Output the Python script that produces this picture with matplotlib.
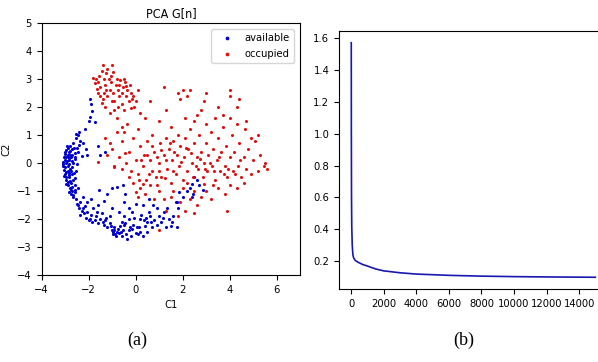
import matplotlib
matplotlib.use("Agg")
import numpy as np
import matplotlib.pyplot as plt
from matplotlib import font_manager

# --- Data: PCA scatter (a) ---
available = [
    (-3.0, 0.4), (-2.9, 0.3), (-3.05, 0.2), (-2.85, 0.1), (-2.95, 0.0), (-3.1, -0.1),
    (-2.8, -0.2), (-2.9, -0.3), (-3.0, -0.4), (-2.85, -0.5), (-2.95, -0.6), (-2.75, -0.7),
    (-2.9, -0.8), (-2.8, -0.9), (-2.7, -1.0), (-2.75, -1.1), (-2.65, -1.2), (-3.0, 0.1),
    (-2.8, 0.3), (-2.7, 0.5), (-2.75, 0.2), (-2.85, -0.05), (-3.05, -0.25), (-2.7, -0.4),
    (-2.6, -0.55), (-3.1, 0.05), (-2.95, 0.45), (-2.8, 0.6), (-2.65, 0.7), (-2.55, 0.9),
    (-2.45, 1.0), (-2.35, 0.8), (-2.5, 0.55), (-2.6, 0.35), (-2.65, 0.0), (-2.55, -0.3),
    (-2.6, -0.8), (-2.9, 0.25), (-3.0, -0.15), (-2.85, -0.35), (-2.95, -0.5), (-2.8, -0.65),
    (-2.7, -0.85), (-2.6, -1.05), (-2.55, -1.3), (-2.5, -1.45), (-2.4, -1.6), (-2.35, -1.4),
    (-2.3, -1.7), (-2.2, -1.8), (-2.15, -1.55), (-2.1, -1.95), (-2.0, -2.05), (-1.9, -1.85),
    (-1.85, -2.1), (-1.8, -1.6), (-1.7, -1.9), (-1.6, -2.15), (-1.5, -2.0), (-1.45, -1.8),
    (-1.35, -2.2), (-1.3, -2.05), (-1.2, -2.3), (-1.1, -2.15), (-1.0, -2.4), (-0.95, -2.55),
    (-0.9, -2.3), (-0.85, -2.6), (-0.8, -2.45), (-0.7, -2.5), (-0.65, -2.25), (-0.6, -2.1),
    (-0.55, -2.4), (-0.5, -1.9), (-0.45, -2.15), (-0.4, -2.55), (-0.35, -2.7), (-0.3, -2.0),
    (-0.25, -2.3), (-0.2, -2.6), (-0.1, -2.2), (-0.05, -1.95), (0.0, -2.5), (0.1, -2.55),
    (0.15, -2.3), (0.2, -2.0), (0.25, -1.85), (0.3, -2.6), (0.4, -2.25), (0.5, -2.1),
    (0.55, -1.75), (0.6, -1.9), (0.7, -2.3), (0.8, -2.05), (0.9, -1.6), (1.0, -1.9),
    (1.1, -2.1), (1.2, -1.75), (1.3, -2.3), (1.4, -2.0), (1.5, -2.25), (1.6, -1.9),
    (1.7, -1.4), (1.75, -2.3), (1.8, -1.6), (2.0, -1.2), (2.2, -1.0), (2.3, -0.9),
    (2.4, -0.75), (2.45, -1.1), (2.6, -0.6), (1.85, -1.05), (-1.0, -0.9), (-0.8, -0.85),
    (-0.55, -0.8), (-0.45, -1.1), (-0.5, -1.4), (-0.3, -1.6), (0.0, -1.45), (0.3, -1.5),
    (0.55, -1.3), (0.75, -1.5), (-1.2, -1.1), (-1.55, -0.95), (-1.35, -1.35), (-1.6, -1.5),
    (-1.9, -1.3), (-2.05, -1.4), (-2.25, -1.2), (-2.45, -0.9), (-1.0, -1.6), (-0.7, -1.75),
    (-1.1, -1.9), (-0.15, -1.75), (0.5, -2.45), (-0.9, -2.4), (-0.6, -2.6), (-2.55, 1.05),
    (-2.4, 1.1), (-2.25, 0.7), (-2.15, 1.2), (-2.0, 1.5), (-1.95, 1.65), (-1.85, 1.85),
    (-1.9, 2.1), (-1.95, 2.3), (-1.75, 1.45), (-1.6, 0.6), (-1.5, 0.3), (-2.1, 0.5),
    (-1.3, 0.4), (-2.6, 0.2), (-2.3, 0.25), (-2.05, 0.3), (1.76, -1.39), (2.38, -1.2),
    (2.86, -0.96), (2.5, -0.5), (2.7, -0.8),
    # dense column, extra
    (-2.92, 0.62), (-2.88, 0.52), (-3.02, 0.33), (-2.78, 0.42), (-2.98, 0.22), (-2.82, 0.18),
    (-2.72, 0.08), (-3.08, -0.02), (-2.9, -0.12), (-2.76, -0.28), (-2.96, -0.32), (-3.04, -0.48),
    (-2.82, -0.42), (-2.68, -0.6), (-2.88, -0.68), (-2.98, -0.75), (-2.74, -0.95), (-2.84, -1.02),
    (-2.66, -1.15), (-2.58, -0.98), (-2.92, 0.08), (-2.84, 0.38), (-2.7, 0.28), (-2.62, 0.52),
    (-2.58, 0.15), (-2.7, -0.15), (-2.62, -0.35), (-2.5, -0.05), (-2.45, 0.4), (-2.4, 0.65),
    # arc, extra
    (-2.45, -1.5), (-2.35, -1.85), (-2.25, -1.6), (-2.05, -1.75), (-1.95, -2.0), (-1.75, -2.05),
    (-1.65, -1.75), (-1.4, -2.1), (-1.25, -1.95), (-1.05, -2.25), (-0.98, -2.48), (-0.88, -2.52),
    (-0.75, -2.35), (-0.62, -2.45), (-0.5, -2.2), (-0.3, -2.4), (-0.15, -2.35), (0.05, -2.3),
    (0.2, -2.45), (0.35, -2.05), (0.45, -1.95), (0.65, -2.1), (0.9, -2.2), (1.15, -1.95),
    (1.35, -1.6), (1.55, -2.1),
]

occupied = [
    (-1.7, 3.0), (-1.6, 2.9), (-1.55, 3.1), (-1.5, 2.7), (-1.45, 3.3), (-1.4, 3.5),
    (-1.35, 2.5), (-1.3, 2.8), (-1.25, 3.2), (-1.2, 2.4), (-1.15, 3.0), (-1.1, 2.6),
    (-1.05, 2.9), (-1.0, 3.5), (-0.95, 2.5), (-0.9, 2.2), (-0.85, 2.8), (-0.8, 3.0),
    (-0.75, 2.6), (-0.7, 2.4), (-0.65, 2.95), (-0.6, 2.1), (-0.55, 2.7), (-0.5, 3.0),
    (-0.45, 2.9), (-0.4, 2.4), (-0.35, 2.6), (-0.3, 2.2), (-0.25, 2.8), (-0.2, 2.5),
    (-0.15, 2.3), (-0.1, 2.4), (0.0, 2.2), (-1.6, 2.5), (-1.5, 2.4), (-1.4, 2.3),
    (-1.35, 3.0), (-1.25, 2.6), (-1.65, 2.65), (-1.75, 2.85), (-1.8, 3.05), (-1.3, 2.0),
    (-1.0, 2.2), (-0.9, 1.9), (-0.8, 1.6), (-0.6, 1.3), (-0.5, 1.9), (-0.35, 1.4),
    (-0.2, 1.95), (-0.05, 2.0), (0.1, 2.6), (0.2, 1.8), (0.4, 1.6), (-1.1, 1.8),
    (-1.45, 2.15), (-0.75, 2.0), (-1.05, 3.1), (-0.95, 3.25), (-1.2, 3.35), (-0.7, 2.8),
    (-0.4, 2.75), (-0.6, 2.5),
    (-1.6, 0.05), (-1.3, 0.9), (-1.2, 0.3), (-1.0, 0.5), (-0.9, -0.1), (-0.7, 0.2),
    (-0.6, 0.8), (-0.4, 0.0), (-0.3, 0.4), (-0.2, -0.3), (-0.1, 0.9), (0.0, 0.1),
    (0.1, -0.4), (0.2, 0.6), (0.3, -0.1), (0.35, 0.3), (0.45, -0.6), (0.5, 0.8),
    (0.6, 0.1), (0.7, -0.3), (0.8, 0.4), (0.9, -0.8), (1.0, 0.0), (1.05, 0.7),
    (1.1, -0.5), (1.2, 0.3), (1.3, 0.9), (1.35, -0.2), (1.4, 0.5), (1.5, -0.7),
    (1.55, 0.1), (1.6, 0.8), (1.7, -0.4), (1.75, 0.3), (1.8, 1.0), (1.85, -0.1),
    (1.9, 0.6), (2.0, -0.6), (2.05, 0.2), (2.1, 0.9), (2.2, -0.3), (2.25, 0.5),
    (2.3, 1.2), (2.4, 0.0), (2.45, -0.5), (2.5, 0.7), (2.6, 0.2), (2.65, -0.2),
    (2.7, 1.0), (2.8, 0.4), (2.85, -0.5), (2.9, 0.0), (3.0, 0.7), (3.05, -0.3),
    (3.1, 0.3), (3.2, 1.1), (3.25, -0.1), (3.3, 0.5), (3.4, -0.6), (3.45, 0.1),
    (3.5, 0.9), (3.6, -0.3), (3.65, 0.4), (3.7, 1.3), (3.8, -0.1), (3.85, 0.6),
    (3.9, -0.5), (4.0, 0.2), (4.1, 1.0), (4.15, -0.3), (4.2, 0.4), (4.3, 1.4),
    (4.35, -0.1), (4.4, 0.7), (4.5, -0.5), (4.6, 0.2), (4.65, 1.2), (4.7, -0.2),
    (4.8, 0.5), (4.9, -0.4), (5.0, 0.1), (5.1, 0.8), (5.2, -0.3), (5.3, 0.3),
    (5.45, -0.1), (5.6, -0.2), (5.5, 0.0),
    (0.2, -0.9), (0.4, -1.1), (0.6, -0.8), (0.8, -1.3), (1.0, -1.0), (1.2, -1.3),
    (1.3, -1.7), (1.5, -1.2), (1.6, -1.0), (1.8, -1.9), (1.9, -1.4), (2.1, -1.7),
    (2.3, -1.3), (2.5, -1.0), (2.6, -1.5), (2.8, -1.2), (3.0, -1.0), (3.2, -1.3),
    (3.5, -0.9), (3.8, -1.1), (4.0, -0.8), (4.3, -0.9), (4.6, -0.7), (3.9, -1.7),
    (1.0, -2.4), (2.5, -1.8), (0.1, -1.2), (-0.1, -0.7), (0.0, -1.05), (0.3, -0.75),
    (1.8, 2.5), (1.9, 2.3), (2.0, 2.6), (2.2, 2.4), (2.3, 2.6), (3.0, 2.5),
    (2.9, 2.2), (3.5, 2.0), (3.7, 1.7), (4.0, 2.4), (4.0, 2.6), (4.4, 2.3),
    (4.3, 2.0), (2.6, 1.7), (1.2, 2.7), (1.3, 1.9), (2.5, 1.5), (3.0, 1.4),
    (3.4, 1.6), (4.0, 1.6), (4.7, 1.5), (5.2, 1.0), (4.9, 0.9), (2.1, 1.6),
    (0.6, 2.2), (1.0, 1.5), (0.1, 1.2), (0.7, 1.0), (1.5, 1.3), (2.8, 1.9),
    (0.5, 0.3), (0.7, 0.6), (0.9, 0.2), (1.1, 0.45), (1.3, 0.1), (1.45, 0.7),
    (1.65, 0.4), (1.95, 0.05), (2.15, 0.55), (2.35, 0.35), (2.55, -0.1), (2.75, 0.15),
    (2.95, -0.2), (3.15, 0.0), (3.35, -0.3), (3.55, 0.2), (3.75, -0.4), (3.95, -0.2),
    (4.25, -0.4), (4.45, 0.1), (1.0, -0.3), (1.25, -0.55), (1.6, -0.3), (2.0, -0.9),
    (2.2, -0.7), (2.9, -0.75), (3.3, -0.8), (0.85, -0.5), (0.55, -0.4), (0.25, 0.1),
    (-0.9, -0.15), (-0.6, -0.2), (-0.3, -0.5), (0.15, -0.6), (-0.45, 0.35), (-1.1, 0.7),
    (-0.8, 1.1), (-0.5, 1.1),
]

# --- Data: loss curve (b) ---
iters = [0, 5, 15, 30, 60, 100, 150, 250, 400, 700, 1000, 1500, 2000,
         3000, 4000, 6000, 8000, 10000, 12000, 15000]
loss = [1.57, 1.0, 0.6, 0.42, 0.3, 0.24, 0.22, 0.205, 0.195, 0.18, 0.17, 0.152, 0.14,
        0.128, 0.12, 0.112, 0.107, 0.104, 0.102, 0.1]

# narrow font for ticks if one is installed, otherwise Liberation Sans a bit smaller
fonts = font_manager.fontManager.ttflist
has_cond = any('DejaVuSansCondensed' in f.fname for f in fonts)
if has_cond:
    plt.rcParams['font.family'] = ['DejaVu Sans']
    plt.rcParams['font.stretch'] = 'condensed'
    TICK_SIZE = 8
else:
    plt.rcParams['font.family'] = ['Liberation Sans', 'DejaVu Sans']
    TICK_SIZE = 7.5
plt.rcParams['font.size'] = TICK_SIZE

fig = plt.figure(figsize=(5.98, 3.62), dpi=100)

# --- Panel (a) ---
ax1 = fig.add_axes([0.0697, 0.2403, 0.432, 0.696])
av = np.array(available)
oc = np.array(occupied)
ax1.scatter(av[:, 0], av[:, 1], s=5, c='#0000d0', label='available', linewidths=0)
ax1.scatter(oc[:, 0], oc[:, 1], s=5, c='#e01010', label='occupied', linewidths=0)
ax1.set_xlim(-4, 7)
ax1.set_ylim(-4, 5)
ax1.set_xticks([-4, -2, 0, 2, 4, 6])
ax1.set_yticks(range(-4, 6))
ax1.set_xlabel('C1', fontsize=8)
ax1.set_ylabel('C2', fontsize=8)
ax1.set_title('PCA G[n]', fontsize=9, pad=4)
ax1.legend(loc='upper right', fontsize=8, markerscale=1.2, handletextpad=0.6)

# --- Panel (b) ---
ax2 = fig.add_axes([0.567, 0.2017, 0.449, 0.7127])
ax2.plot(iters, loss, color='#1818b0', lw=1.2)
ax2.set_xticks(range(0, 15001, 2000))
ax2.set_yticks([0.2, 0.4, 0.6, 0.8, 1.0, 1.2, 1.4, 1.6])

for ax in (ax1, ax2):
    ax.tick_params(labelsize=TICK_SIZE, length=3.5)

# --- Captions ---
fig.text(0.229, 0.047, '(a)', family='Liberation Serif', fontsize=13, ha='center')
fig.text(0.776, 0.047, '(b)', family='Liberation Serif', fontsize=13, ha='center')

fig.savefig('out.png', dpi=100)
